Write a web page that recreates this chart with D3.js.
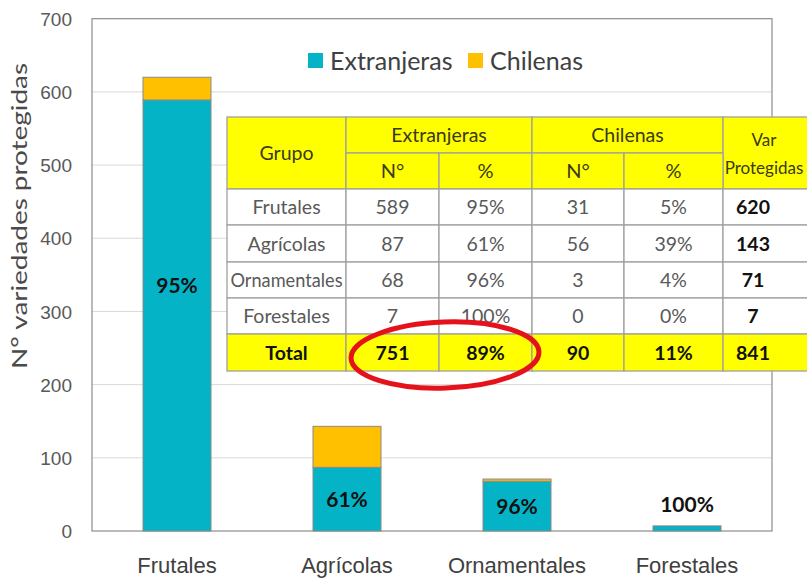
<!DOCTYPE html>
<html><head><meta charset="utf-8">
<script src="https://cdn.jsdelivr.net/npm/d3@7"></script>
<style>
html,body{margin:0;padding:0;background:#fff;}
svg{display:block;font-family:"Lato","Open Sans",sans-serif;}
</style></head>
<body>
<svg id="chart" width="807" height="579"></svg>
<script>
const categories = ["Frutales", "Agrícolas", "Ornamentales", "Forestales"];
const extranjeras = [589, 87, 68, 7];
const chilenas = [31, 56, 3, 0];
const yTicks = [0, 100, 200, 300, 400, 500, 600, 700];
const seriesNames = ["Extranjeras", "Chilenas"];
const colors = ["#05B3C6", "#FFC000"];

const svg = d3.select("#chart");
const margin = {left: 92, right: 35, top: 18.7, bottom: 48};
const W = 807, H = 579;
const x = d3.scaleBand().domain(categories).range([margin.left, W - margin.right]).paddingInner(0.6).paddingOuter(0.3);
const y = d3.scaleLinear().domain([0, 700]).range([H - margin.bottom, margin.top]);

// gridlines
svg.append("g").selectAll("line").data(yTicks.filter(d => d > 0 && d < 700)).join("line")
  .attr("x1", margin.left).attr("x2", W - margin.right)
  .attr("y1", d => y(d)).attr("y2", d => y(d))
  .attr("stroke", "#d9d9d9").attr("stroke-width", 1);

// plot border
svg.append("rect").attr("x", margin.left).attr("y", y(700))
  .attr("width", W - margin.right - margin.left).attr("height", y(0) - y(700))
  .attr("fill", "none").attr("stroke", "#8c8c8c").attr("stroke-width", 1.2);

// y axis
const yAxis = d3.axisLeft(y).tickValues(yTicks).tickSize(0).tickPadding(20);
const ya = svg.append("g").attr("transform", `translate(${margin.left},0)`).call(yAxis);
ya.select(".domain").remove();
ya.selectAll("text").attr("font-size", 19).attr("fill", "#595959").attr("font-family", "inherit").attr("dy", "0.35em");

// x axis
const xAxis = d3.axisBottom(x).tickSize(0).tickPadding(0);
const xa = svg.append("g").attr("transform", `translate(0,${H - 6})`).call(xAxis);
xa.select(".domain").remove();
xa.selectAll("text").attr("font-size", 22).attr("fill", "#404040").attr("font-family", "inherit").attr("dy", "0").attr("y", 0);

// y title
svg.append("text").attr("transform", `translate(27,216) rotate(-90)`)
  .attr("text-anchor", "middle").attr("font-size", 21).attr("fill", "#4a4a4a")
  .attr("textLength", 306).attr("lengthAdjust", "spacingAndGlyphs")
  .text("N° variedades protegidas");

// stacked bars
const rows = categories.map((c, i) => ({cat: c, ext: extranjeras[i], chi: chilenas[i]}));
const stack = d3.stack().keys(["ext", "chi"])(rows);
svg.append("g").selectAll("g").data(stack).join("g")
  .attr("fill", (d, i) => colors[i])
  .selectAll("rect").data(d => d.filter(s => s[1] - s[0] > 0)).join("rect")
  .attr("x", d => x(d.data.cat)).attr("width", x.bandwidth())
  .attr("y", d => y(d[1])).attr("height", d => y(d[0]) - y(d[1]))
  .attr("stroke", "#8a8a8a").attr("stroke-width", 1);

// percentage labels
const labelShift = {"Frutales": -30};
svg.append("g").selectAll("text").data(rows).join("text")
  .attr("x", d => x(d.cat) + x.bandwidth() / 2)
  .attr("y", d => {
    const h = y(0) - y(d.ext);
    if (h < 30) return y(d.ext + d.chi) - 14;
    return y(d.ext / 2) + 8 + (labelShift[d.cat] || 0);
  })
  .attr("text-anchor", "middle").attr("font-size", 21).attr("font-weight", "bold").attr("fill", "#111")
  .text(d => Math.round(d.ext / (d.ext + d.chi) * 100) + "%");

// legend
const leg = svg.append("g");
const legX = [308, 468];
seriesNames.forEach((n, i) => {
  leg.append("rect").attr("x", legX[i]).attr("y", 53).attr("width", 15).attr("height", 15).attr("fill", colors[i]);
  leg.append("text").attr("x", legX[i] + 22).attr("y", 70).attr("font-size", 25).attr("fill", "#404040").text(n);
});

// table
const tX = [227, 346, 439, 532, 624, 723, 830];
const tY = [117, 153, 189, 225, 262, 298, 334, 371];
const yellow = "#FFFF00";
const tg = svg.append("g");
const border = "#a0a0a0";
function cell(x0, y0, x1, y1, fill, txt, opts = {}) {
  tg.append("rect").attr("x", x0).attr("y", y0).attr("width", x1 - x0).attr("height", y1 - y0)
    .attr("fill", fill).attr("stroke", border).attr("stroke-width", 1.3);
  if (txt !== undefined) {
    const lines = Array.isArray(txt) ? txt : [txt];
    const cx = opts.cx !== undefined ? opts.cx : (x0 + x1) / 2;
    const cy = (y0 + y1) / 2;
    const lh = opts.lh || 28;
    lines.forEach((t, k) => {
      const el = tg.append("text").attr("x", cx).attr("y", cy + (k - (lines.length - 1) / 2) * lh + 7)
        .attr("text-anchor", "middle").attr("font-size", opts.size || 19.5)
        .attr("font-weight", opts.bold ? "bold" : "normal").attr("fill", opts.color || "#595959").text(t);
      if (opts.fit && el.node().getComputedTextLength() > opts.fit) {
        el.attr("textLength", opts.fit).attr("lengthAdjust", "spacingAndGlyphs");
      }
    });
  }
}
const hc = "#3a3a1a";
cell(tX[0], tY[0], tX[1], tY[2], yellow, "Grupo", {color: hc});
cell(tX[1], tY[0], tX[3], tY[1], yellow, "Extranjeras", {color: hc});
cell(tX[3], tY[0], tX[5], tY[1], yellow, "Chilenas", {color: hc});
cell(tX[5], tY[0], tX[6], tY[2], yellow, ["Var", "Protegidas"], {color: hc, cx: 764, size: 17, lh: 28});
cell(tX[1], tY[1], tX[2], tY[2], yellow, "N°", {color: hc, size: 20});
cell(tX[2], tY[1], tX[3], tY[2], yellow, "%", {color: hc, size: 20});
cell(tX[3], tY[1], tX[4], tY[2], yellow, "N°", {color: hc, size: 20});
cell(tX[4], tY[1], tX[5], tY[2], yellow, "%", {color: hc, size: 20});
rows.forEach((r, i) => {
  const tot = r.ext + r.chi;
  const y0 = tY[2 + i], y1 = tY[3 + i];
  cell(tX[0], y0, tX[1], y1, "#fff", r.cat, {fit: 112});
  cell(tX[1], y0, tX[2], y1, "#fff", String(r.ext));
  cell(tX[2], y0, tX[3], y1, "#fff", Math.round(r.ext / tot * 100) + "%");
  cell(tX[3], y0, tX[4], y1, "#fff", String(r.chi));
  cell(tX[4], y0, tX[5], y1, "#fff", Math.round(r.chi / tot * 100) + "%");
  cell(tX[5], y0, tX[6], y1, "#fff", String(tot), {bold: true, color: "#111", cx: 753});
});
const sumE = d3.sum(extranjeras), sumC = d3.sum(chilenas), sumT = sumE + sumC;
const tb = {bold: true, color: "#111"};
cell(tX[0], tY[6], tX[1], tY[7], yellow, "Total", tb);
cell(tX[1], tY[6], tX[2], tY[7], yellow, String(sumE), tb);
cell(tX[2], tY[6], tX[3], tY[7], yellow, Math.round(sumE / sumT * 100) + "%", tb);
cell(tX[3], tY[6], tX[4], tY[7], yellow, String(sumC), tb);
cell(tX[4], tY[6], tX[5], tY[7], yellow, Math.round(sumC / sumT * 100) + "%", tb);
cell(tX[5], tY[6], tX[6], tY[7], yellow, String(sumT), Object.assign({cx: 753}, tb));

// red ellipse highlight
svg.append("ellipse").attr("cx", 445).attr("cy", 355).attr("rx", 94).attr("ry", 33)
  .attr("fill", "none").attr("stroke", "#E5121C").attr("stroke-width", 5)
  .attr("transform", "rotate(-2 445 355)");
</script>
</body></html>
